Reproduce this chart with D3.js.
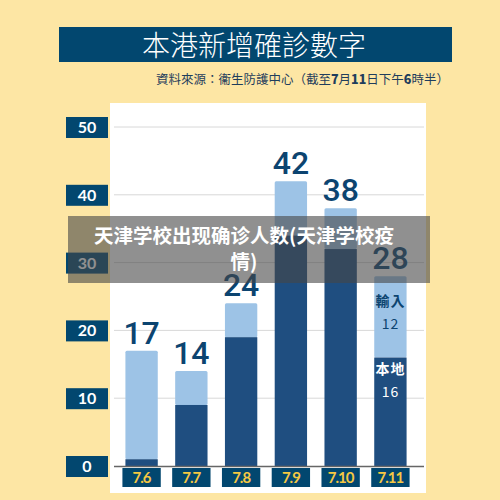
<!DOCTYPE html><html><head><meta charset="utf-8"><script src="https://cdn.jsdelivr.net/npm/d3@7"></script>
<style>body{margin:0;background:#fde6a4}svg{display:block}</style></head><body><svg width="500" height="500"></svg>
<script>
const categories=["7.6","7.7","7.8","7.9","7.10","7.11"];
const local=[1,9,19,34,32,16];
const imported=[16,5,5,8,6,12];
const totals=[17,14,24,42,38,28];
const ticks=[0,10,20,30,40,50];
const svg=d3.select("svg");
const F="'Noto Sans CJK TC','Noto Sans',sans-serif";
svg.append("rect").attr("width",500).attr("height",500).attr("fill","#fde6a4");
svg.append("rect").attr("x",59).attr("y",27).attr("width",393).attr("height",35).attr("fill","#02476f");
svg.append("text").attr("x",254).attr("y",56).attr("text-anchor","middle").attr("fill","#fff").attr("font-size",28).attr("font-weight",300).attr("font-family",F).text("本港新增確診數字");
const sub=svg.append("text").attr("x",449).attr("y",84).attr("text-anchor","end").attr("fill","#1f3d5c").attr("font-size",12.5).attr("font-family",F);
[["資料來源：衞生防護中心（截至",400],["7",900],["月",400],["11",900],["日下午",400],["6",900],["時半）",400]].forEach(([t,w])=>sub.append("tspan").attr("font-weight",w).text(t));
svg.append("rect").attr("x",110).attr("y",103).attr("width",316).attr("height",390).attr("fill","#fff");
const y=d3.scaleLinear().domain([0,50]).range([466,127]);
const x=d3.scaleBand().domain(categories).range([108,424]).paddingInner(0.35).paddingOuter(0.35);
ticks.forEach(t=>{
 if(t>0)svg.append("line").attr("x1",114).attr("x2",424).attr("y1",y(t)).attr("y2",y(t)).attr("stroke","#d8d8d8").attr("stroke-width",1);
 svg.append("rect").attr("x",66).attr("y",y(t)-10).attr("width",42).attr("height",21).attr("fill","#02476f");
 svg.append("text").attr("x",87).attr("y",y(t)+6).attr("text-anchor","middle").attr("fill","#fff").attr("font-size",16).attr("font-weight",700).attr("font-family","Lato,sans-serif").text(t);
});
categories.forEach((c,i)=>{
 const bx=x(c),bw=x.bandwidth();
 svg.append("rect").attr("x",bx).attr("y",y(totals[i])).attr("width",bw).attr("height",y(local[i])-y(totals[i])).attr("fill","#9dc3e6").attr("rx",1.5);
 svg.append("rect").attr("x",bx).attr("y",y(local[i])).attr("width",bw).attr("height",y(0)-y(local[i])).attr("fill","#1f4e80");
 svg.append("text").attr("x",bx+bw/2).attr("y",y(totals[i])-7).attr("text-anchor","middle").attr("fill","#0c4470").attr("font-size",32).attr("font-weight",500).attr("font-family","Roboto,sans-serif").text(totals[i]);
 svg.append("rect").attr("x",bx-3).attr("y",468).attr("width",bw+6).attr("height",19).attr("fill","#02476f");
 svg.append("text").attr("x",bx+bw/2).attr("y",483).attr("text-anchor","middle").attr("fill","#f5c842").attr("font-size",15).attr("font-weight",700).attr("font-family","Lato,sans-serif").attr("letter-spacing",-1).text(c);
});
svg.append("line").attr("x1",114).attr("x2",424).attr("y1",y(0)+0.5).attr("y2",y(0)+0.5).attr("stroke","#666").attr("stroke-width",1.5);
const lx=x("7.11")+x.bandwidth()/2;
[["輸入",306,"#0c4470",700],["12",329,"#0c4470",400],["本地",374,"#fff",700],["16",397,"#fff",400]].forEach(([t,yy,c,w])=>svg.append("text").attr("x",lx).attr("y",yy).attr("text-anchor","middle").attr("fill",c).attr("font-size",14).attr("font-weight",w).attr("letter-spacing",1).attr("font-family",F).text(t));
svg.append("rect").attr("x",68).attr("y",216).attr("width",362).attr("height",67).attr("fill","rgba(70,70,70,0.6)");
svg.append("text").attr("x",244).attr("y",243).attr("text-anchor","middle").attr("fill","#fff").attr("font-size",19.5).attr("font-weight",700).attr("font-family","'Noto Sans CJK SC',sans-serif").text("天津学校出现确诊人数(天津学校疫");
svg.append("text").attr("x",244).attr("y",269).attr("text-anchor","middle").attr("fill","#fff").attr("font-size",19.5).attr("font-weight",700).attr("font-family","'Noto Sans CJK SC',sans-serif").text("情)");
</script></body></html>
